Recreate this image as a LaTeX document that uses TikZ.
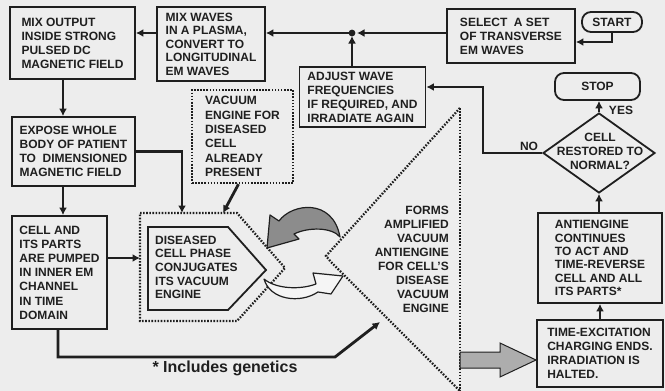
\documentclass[tikz,border=0pt]{standalone}
\usepackage{fontspec}
\setmainfont{Liberation Sans}
\usetikzlibrary{arrows.meta,shapes.geometric,calc}
\begin{document}
\begin{tikzpicture}[x=1pt,y=-1pt,
  txt/.style={font=\fontsize{12}{14}\selectfont\bfseries, text=black!88, align=left, inner sep=0pt},
  box/.style={txt, draw=black!88, line width=1.8pt},
  term/.style={txt, draw=black!88, line width=1.8pt, rounded corners=9pt},
  dotline/.style={draw=black!88, line width=2.3pt, dash pattern=on 1.6pt off 1.5pt},
  conn/.style={draw=black!88, line width=2.8pt},
  arr/.style={conn, -{Latex[length=7.5pt,width=8pt]}},
]
\fill[black!7] (0,0) rectangle (665,391);
\useasboundingbox (0,0) rectangle (665,391);

% helper coordinates
\coordinate (yline) at (0,33);
\coordinate (jn) at (352,33);
\coordinate (vx) at (63,0);
\coordinate (vx2) at (58,0);
\coordinate (hexTop1) at (182,213);
\coordinate (hexTop2) at (223,213);
\coordinate (hexW) at (140,258);
\coordinate (bl) at (335,357);
\coordinate (btip) at (380,322);
\coordinate (nocorner) at (483,87);

% boxes
\node[box, minimum width=125pt, minimum height=72pt] (mixout) at (72.5,43) {MIX OUTPUT\\INSIDE STRONG\\PULSED DC\\MAGNETIC FIELD};
\node[box, minimum width=108pt, minimum height=74pt, font=\fontsize{12}{13.5}\selectfont\bfseries] (mixwaves) at (211,44) {MIX WAVES\\IN A PLASMA,\\CONVERT TO\\LONGITUDINAL\\EM WAVES};
\node[box, minimum width=128pt, minimum height=54pt] (select) at (511,36) {SELECT\ \ A SET\\OF TRANSVERSE\\EM WAVES};
\node[term, minimum width=60pt, minimum height=20pt] (start) at (612,22) {START};
\node[box, minimum width=126pt, minimum height=60pt] (adjust) at (362.5,97) {ADJUST WAVE\\FREQUENCIES\\IF REQUIRED, AND\\IRRADIATE AGAIN};
\node[term, minimum width=85pt, minimum height=27pt] (stop) at (597.5,86.5) {STOP};
\node[diamond, draw=black!88, line width=1.8pt, minimum width=112pt, minimum height=80pt, inner sep=0pt] (dia) at (599,153) {};
\node[txt, align=center] (diatext) at (600,151) {CELL\\RESTORED TO\\NORMAL?};
\node[box, minimum width=124pt, minimum height=90pt, font=\fontsize{12}{13.3}\selectfont\bfseries] (anti) at (600,258) {ANTIENGINE\\CONTINUES\\TO ACT AND\\TIME-REVERSE\\CELL AND ALL\\ITS PARTS*};
\node[box, minimum width=126pt, minimum height=67pt] (timeexc) at (600,353.5) {TIME-EXCITATION\\CHARGING ENDS.\\IRRADIATION IS\\HALTED.};
\node[box, minimum width=123pt, minimum height=69pt] (expose) at (73.5,151.5) {EXPOSE WHOLE\\BODY OF PATIENT\\TO\ \ DIMENSIONED\\MAGNETIC FIELD};
\node[box, minimum width=95pt, minimum height=113pt, font=\fontsize{12}{14.2}\selectfont\bfseries] (cellp) at (59.5,272.5) {CELL AND\\ITS PARTS\\ARE PUMPED\\IN INNER EM\\CHANNEL\\IN TIME\\DOMAIN};
\node[txt, dotline, minimum width=101pt, minimum height=93pt, font=\fontsize{12}{14.3}\selectfont\bfseries] (vac) at (242.5,136.5) {VACUUM\\ENGINE FOR\\DISEASED\\CELL\\ALREADY\\PRESENT};

% conjugation pentagons
\draw[dotline] (140,213) -- (237,213) -- (285,268) -- (237,321) -- (140,321) -- cycle;
\draw[draw=black!88, line width=1.8pt] (148,227) -- (228,227) -- (266,270) -- (228,310) -- (148,310) -- cycle;
\node[txt, anchor=north west, font=\fontsize{12}{13.7}\selectfont\bfseries] (dtext) at (155,235.5) {DISEASED\\CELL PHASE\\CONJUGATES\\ITS VACUUM\\ENGINE};

% antiengine triangle
\draw[dotline] (460,108) -- (326,256) -- (331,262) -- (460,391);
\draw[dotline] (460,108) -- (460,391);
\node[txt, align=right, anchor=north east] (forms) at (449,205.5) {FORMS\\AMPLIFIED\\VACUUM\\ANTIENGINE\\FOR CELL'S\\DISEASE\\VACUUM\\ENGINE};

% curved arrows
\draw[fill=black!45, draw=black!88, line width=1.2pt, line join=round]
  (267,248) -- (270,215) -- (279,221)
  .. controls (292,203) and (333,198) .. (340,237)
  .. controls (332,227) and (308,227) .. (294,234)
  -- (299,239) -- cycle;
\draw[fill=black!4, draw=black!88, line width=1.2pt, line join=round]
  (264,279) .. controls (276,289) and (300,290) .. (316,284)
  -- (313,273) -- (343,276) -- (331,294) -- (318,292)
  .. controls (300,304) and (270,300) .. cycle;

% big gray arrow
\draw[fill=black!32, draw=black!88, line width=1pt, line join=miter]
  (460,352) -- (500,352) -- (500,343) -- (536,360) -- (500,377) -- (500,368) -- (460,368) -- cycle;

% connectors
\draw[arr] (mixwaves.west |- yline) -- (mixout.east |- yline);
\draw[arr] (select.west |- jn) -- ($(jn)+(5,0)$);
\draw[arr] (jn) -- (mixwaves.east |- jn);
\draw[arr] (adjust.north -| jn) -- ($(jn)+(0,3)$);
\fill[black!88] (jn) circle (3.4pt);
\draw[arr] (start.south) |- ($(select.east)+(0,6)$);
\draw[arr] (mixout.south -| vx) -- (expose.north -| vx);
\draw[arr] (expose.south -| vx) -- (cellp.north -| vx);
\draw[arr] (expose.east) -| (hexTop1);
\draw[arr] ($(vac.south)+(-4,0)$) -- (hexTop2);
\draw[arr] (cellp.east |- hexW) -- (hexW);
\draw[arr] (cellp.south -| vx2) |- (bl) -- (btip);
\draw[arr] (timeexc.north) -- (anti.south);
\draw[arr] (anti.north -| dia.south) -- (dia.south);
\draw[arr] (dia.north) -- (stop.south -| dia.north);
\draw[arr] (dia.west) -| (nocorner) -- (adjust.east |- nocorner);

% labels
\node[txt] (nolab) at (529,146) {NO};
\node[txt] (yeslab) at (621,110) {YES};
\node[txt, font=\fontsize{16}{18}\selectfont\bfseries] (foot) at (225,368) {* Includes genetics};
\end{tikzpicture}
\end{document}
